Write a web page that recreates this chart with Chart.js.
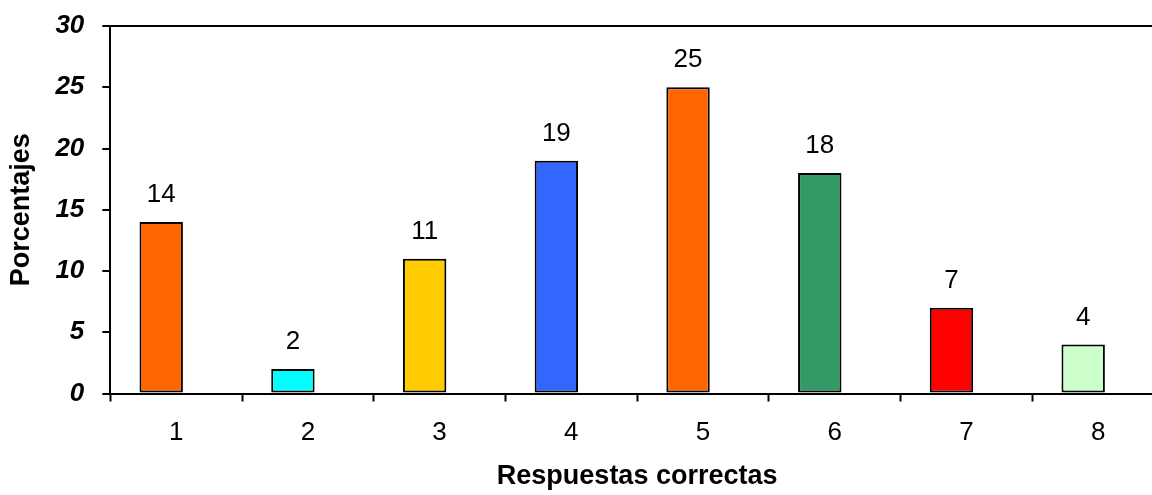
<!DOCTYPE html>
<html>
<head>
<meta charset="utf-8">
<script src="https://cdn.jsdelivr.net/npm/chart.js@4.4.1/dist/chart.umd.min.js"></script>
<style>
  html, body { margin: 0; padding: 0; background: #fff; overflow: hidden; }
  #wrap { width: 1166px; height: 495px; position: relative; }
</style>
</head>
<body>
<div id="wrap"><canvas id="respuestas"></canvas></div>
<script>
// datos
const categorias = ['1', '2', '3', '4', '5', '6', '7', '8'];
const porcentajes = [14, 2, 11, 19, 25, 18, 7, 4];
const coloresBarra = ['#FF6600', '#00FFFF', '#FFCC00', '#3366FF', '#FF6600', '#339966', '#FF0000', '#CCFFCC'];
const ticksY = [0, 5, 10, 15, 20, 25, 30];

const fuente = 'Arial, "Liberation Sans", sans-serif';

// etiquetas de valor encima de cada barra
const etiquetasValor = {
    id: 'etiquetasValor',
    afterDatasetsDraw(chart) {
        const ctx = chart.ctx;
        const meta = chart.getDatasetMeta(0);
        ctx.save();
        ctx.fillStyle = '#000';
        ctx.font = '26px ' + fuente;
        ctx.textAlign = 'center';
        ctx.textBaseline = 'alphabetic';
        meta.data.forEach(function(bar, i){
            ctx.fillText(String(porcentajes[i]), bar.x, bar.y - 20);
        });
        ctx.restore();
    }
};

const grafico = new Chart(
    document.getElementById('respuestas'),
    {
        type: 'bar',
        data: {
            labels: categorias,
            datasets: [{
                label: 'Porcentajes',
                data: porcentajes,
                backgroundColor: coloresBarra,
                borderColor: '#000',
                borderWidth: 2,
                borderSkipped: false
            }, {
                // serie vacia, deja las barras desplazadas a la izquierda como en el original
                label: '',
                data: categorias.map(function(){ return null; }),
                backgroundColor: 'transparent'
            }]
        },
        options: {
            responsive: true,
            maintainAspectRatio: false,
            animation: false,
            categoryPercentage: 0.4545,
            barPercentage: 1.45,
            layout: { padding: { top: 26, right: 2, left: 5, bottom: 6 } },
            plugins: {
                legend: { display: false },
                tooltip: { enabled: false }
            },
            scales: {
                x: {
                    grid: {
                        offset: true,
                        drawOnChartArea: false,
                        tickLength: 8,
                        tickColor: '#000',
                        tickWidth: 2
                    },
                    border: { color: '#000', width: 2 },
                    ticks: {
                        color: '#000',
                        padding: 16,
                        font: { family: fuente, size: 26 }
                    },
                    title: {
                        display: true,
                        text: 'Respuestas correctas',
                        color: '#000',
                        padding: { top: 0, bottom: 0 },
                        font: { family: fuente, size: 27, weight: 'bold', lineHeight: 0.9 }
                    }
                },
                y: {
                    min: 0,
                    max: 30,
                    afterBuildTicks: function(scale){
                        scale.ticks = ticksY.map(function(v){ return { value: v }; });
                    },
                    afterFit: function(scale){
                        // el margen superior lo fija layout.padding
                        scale.paddingTop = 0;
                        scale.paddingBottom = 0;
                    },
                    grid: {
                        color: function(c){ return c.tick && c.tick.value === 30 ? '#000' : 'transparent'; },
                        lineWidth: 2,
                        tickLength: 8,
                        tickColor: '#000',
                        tickWidth: 2
                    },
                    border: { color: '#000', width: 2 },
                    ticks: {
                        color: '#000',
                        padding: 18,
                        font: { family: fuente, size: 26, weight: 'bold', style: 'italic' }
                    },
                    title: {
                        display: true,
                        text: 'Porcentajes',
                        color: '#000',
                        padding: { top: 0, bottom: 0 },
                        font: { family: fuente, size: 27, weight: 'bold' }
                    }
                }
            }
        },
        plugins: [etiquetasValor]
    }
);
</script>
</body>
</html>
